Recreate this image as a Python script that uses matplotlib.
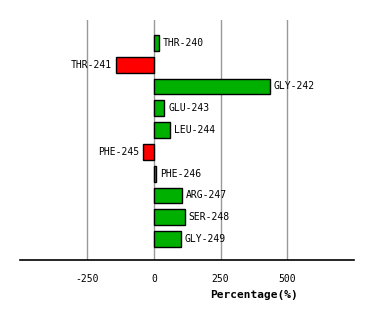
import matplotlib.pyplot as plt

residues = ["THR-240", "THR-241", "GLY-242", "GLU-243", "LEU-244",
            "PHE-245", "PHE-246", "ARG-247", "SER-248", "GLY-249"]
values = [17, -141, 434, 39, 59, -40, 9, 104, 115, 100]
ticks = [-250, 0, 250, 500]

plt.rcParams['font.family'] = ['DejaVu Sans Mono']

fig = plt.figure(figsize=(3.74, 3.20), dpi=100)
ax = fig.add_axes([20 / 374, 60 / 320, 334 / 374, 240 / 320])

pos = list(range(len(values)))
colors = ['#00b000' if v >= 0 else '#ff0000' for v in values]
ax.barh(pos, values, height=0.72, color=colors, edgecolor='black', linewidth=1, zorder=3)

for p, v, name in zip(pos, values, residues):
    if v >= 0:
        ax.annotate(name, (v, p), xytext=(3, 0), textcoords='offset points',
                    ha='left', va='center', fontsize=7)
    else:
        ax.annotate(name, (v, p), xytext=(-3, 0), textcoords='offset points',
                    ha='right', va='center', fontsize=7)

ax.set_xlim(-503, 751)
ax.set_ylim(9.96, -1.05)
ax.set_xticks(ticks)
ax.set_xticklabels([str(t) for t in ticks], fontsize=7)
ax.set_yticks([])
ax.tick_params(axis='x', length=0, pad=10)
ax.grid(axis='x', color='#999999', linewidth=1, zorder=0)

for s in ['top', 'right', 'left']:
    ax.spines[s].set_visible(False)
ax.spines['bottom'].set_linewidth(1.2)

ax.set_xlabel('Percentage(%)', fontsize=8, fontweight='bold')
ax.xaxis.set_label_coords(234 / 334, -30 / 240)

fig.savefig('out.png', dpi=100)
